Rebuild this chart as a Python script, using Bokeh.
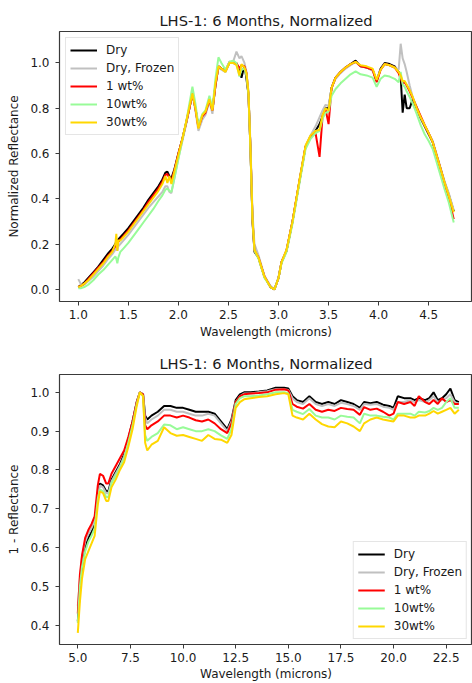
from bokeh.plotting import figure
from bokeh.models import Range1d, FixedTicker, PrintfTickFormatter
from bokeh.layouts import column
from bokeh.embed import file_html
from bokeh.resources import INLINE

# ---------------- data: top panel (normalized reflectance, 1-4.75 microns) ----------------
wl_top = [
    1.00, 1.03, 1.06, 1.10, 1.15, 1.20, 1.25, 1.30, 1.34, 1.37,
    1.38, 1.39, 1.40, 1.42, 1.45, 1.50, 1.55, 1.60, 1.65, 1.70,
    1.75, 1.80, 1.84, 1.87, 1.89, 1.91, 1.93, 1.96, 2.00, 2.04,
    2.08, 2.11, 2.14, 2.17, 2.20, 2.24, 2.27, 2.31, 2.34, 2.37,
    2.40, 2.43, 2.47, 2.51, 2.55, 2.58, 2.61, 2.63, 2.66, 2.68,
    2.70, 2.72, 2.74, 2.76, 2.80, 2.86, 2.92, 2.96, 3.00, 3.03,
    3.08, 3.14, 3.21, 3.27, 3.32, 3.37, 3.41, 3.44, 3.47, 3.50,
    3.53, 3.57, 3.62, 3.67, 3.72, 3.77, 3.82, 3.88, 3.94, 3.98,
    4.02, 4.06, 4.11, 4.16, 4.20, 4.22, 4.24, 4.26, 4.28, 4.31,
    4.34, 4.38, 4.42, 4.46, 4.50, 4.54, 4.58, 4.62, 4.66, 4.70, 4.75,
]
dry_top = [
    0.01, 0.02, 0.03, 0.05, 0.075, 0.10, 0.13, 0.16, 0.18, 0.20,
    0.21, 0.205, 0.22, 0.23, 0.245, 0.27, 0.30, 0.33, 0.36, 0.395,
    0.425, 0.455, 0.485, 0.515, 0.52, 0.50, 0.49, 0.53, 0.60, 0.665,
    0.74, 0.80, 0.865, 0.80, 0.72, 0.765, 0.78, 0.835, 0.79, 0.90,
    0.985, 0.975, 0.965, 1.00, 1.00, 0.995, 0.97, 0.935, 0.99, 0.93,
    0.86, 0.62, 0.30, 0.165, 0.14, 0.055, 0.01, 0.0, 0.05, 0.12,
    0.17, 0.30, 0.48, 0.63, 0.675, 0.70, 0.73, 0.765, 0.80, 0.80,
    0.89, 0.935, 0.96, 0.98, 0.995, 1.01, 0.985, 0.98, 0.97, 0.92,
    0.975, 1.00, 0.995, 0.985, 0.96, 0.94, 0.78, 0.86, 0.80, 0.80,
    0.84, 0.80, 0.755, 0.72, 0.685, 0.65, 0.59, 0.53, 0.47, 0.42, 0.345,
]
frozen_top = [
    0.045, 0.02, 0.02, 0.035, 0.055, 0.08, 0.105, 0.135, 0.155, 0.175,
    0.185, 0.17, 0.19, 0.20, 0.215, 0.24, 0.27, 0.30, 0.33, 0.36,
    0.385, 0.41, 0.43, 0.455, 0.455, 0.43, 0.425, 0.49, 0.58, 0.655,
    0.735, 0.80, 0.86, 0.79, 0.70, 0.75, 0.77, 0.83, 0.775, 0.90,
    0.98, 0.97, 0.96, 1.00, 1.01, 1.05, 1.02, 1.03, 1.00, 0.96,
    0.87, 0.64, 0.34, 0.20, 0.15, 0.06, 0.015, 0.0, 0.05, 0.12,
    0.175, 0.30, 0.48, 0.63, 0.68, 0.72, 0.76, 0.79, 0.815, 0.81,
    0.89, 0.93, 0.955, 0.975, 0.99, 1.005, 0.985, 0.98, 0.965, 0.925,
    0.97, 0.995, 0.99, 0.98, 0.97, 1.085, 1.02, 0.995, 0.96, 0.90,
    0.85, 0.805, 0.76, 0.725, 0.69, 0.655, 0.595, 0.535, 0.475, 0.425, 0.35,
]
wt1_top = [
    0.01, 0.015, 0.025, 0.045, 0.07, 0.095, 0.12, 0.15, 0.17, 0.19,
    0.20, 0.195, 0.21, 0.22, 0.235, 0.26, 0.29, 0.32, 0.35, 0.385,
    0.415, 0.445, 0.475, 0.505, 0.51, 0.49, 0.48, 0.525, 0.60, 0.665,
    0.74, 0.80, 0.865, 0.80, 0.715, 0.765, 0.78, 0.835, 0.79, 0.90,
    0.985, 0.975, 0.965, 1.005, 1.00, 1.00, 0.975, 0.99, 0.985, 0.955,
    0.86, 0.62, 0.31, 0.17, 0.14, 0.055, 0.01, 0.0, 0.05, 0.12,
    0.17, 0.30, 0.48, 0.63, 0.675, 0.69, 0.585, 0.765, 0.795, 0.73,
    0.89, 0.935, 0.96, 0.98, 0.995, 1.005, 0.985, 0.98, 0.97, 0.915,
    0.97, 0.995, 0.99, 0.98, 0.955, 0.93, 0.91, 0.915, 0.90, 0.875,
    0.845, 0.805, 0.765, 0.725, 0.69, 0.65, 0.59, 0.53, 0.465, 0.405, 0.31,
]
wt10_top = [
    0.005, 0.005, 0.01, 0.02, 0.04, 0.065, 0.085, 0.11, 0.13, 0.145,
    0.135, 0.115, 0.14, 0.165, 0.18, 0.205, 0.235, 0.265, 0.295, 0.325,
    0.355, 0.39, 0.415, 0.44, 0.445, 0.435, 0.43, 0.49, 0.575, 0.66,
    0.745, 0.82, 0.895, 0.82, 0.725, 0.775, 0.79, 0.855, 0.80, 0.93,
    1.025, 1.00, 0.97, 1.005, 1.01, 1.00, 0.94, 0.97, 0.975, 0.945,
    0.86, 0.61, 0.31, 0.17, 0.135, 0.05, 0.01, 0.0, 0.05, 0.115,
    0.165, 0.29, 0.47, 0.62, 0.665, 0.69, 0.70, 0.755, 0.78, 0.785,
    0.855, 0.885, 0.91, 0.93, 0.95, 0.963, 0.95, 0.945, 0.935, 0.895,
    0.93, 0.945, 0.94, 0.93, 0.915, 0.96, 0.905, 0.895, 0.875, 0.85,
    0.82, 0.775, 0.725, 0.685, 0.655, 0.62, 0.56, 0.50, 0.44, 0.385, 0.295,
]
wt30_top = [
    0.01, 0.015, 0.025, 0.04, 0.065, 0.09, 0.115, 0.145, 0.165, 0.20,
    0.245, 0.17, 0.215, 0.215, 0.23, 0.255, 0.285, 0.315, 0.345, 0.375,
    0.405, 0.435, 0.465, 0.50, 0.47, 0.50, 0.465, 0.52, 0.595, 0.665,
    0.745, 0.805, 0.865, 0.80, 0.71, 0.77, 0.785, 0.84, 0.79, 0.91,
    0.985, 0.975, 0.96, 1.00, 1.00, 0.99, 0.945, 0.995, 0.98, 0.955,
    0.87, 0.62, 0.31, 0.175, 0.14, 0.055, 0.01, 0.0, 0.05, 0.12,
    0.175, 0.30, 0.485, 0.635, 0.68, 0.70, 0.705, 0.77, 0.80, 0.79,
    0.89, 0.935, 0.96, 0.98, 0.995, 1.005, 0.99, 0.985, 0.975, 0.925,
    0.97, 0.995, 0.99, 0.98, 0.96, 0.945, 0.92, 0.92, 0.905, 0.88,
    0.85, 0.80, 0.76, 0.725, 0.69, 0.65, 0.59, 0.53, 0.47, 0.415, 0.34,
]

# ---------------- data: bottom panel (1 - reflectance, 5-23 microns) ----------------
wl_bot = [
    5.0, 5.1, 5.2, 5.35, 5.5, 5.65, 5.8, 5.95, 6.05, 6.2,
    6.35, 6.45, 6.6, 6.8, 7.0, 7.2, 7.4, 7.6, 7.8, 7.95,
    8.1, 8.2, 8.3, 8.5, 8.8, 9.1, 9.4, 9.7, 10.0, 10.3,
    10.6, 10.9, 11.2, 11.5, 11.8, 12.1, 12.3, 12.5, 12.7, 12.9,
    13.2, 13.6, 14.0, 14.4, 14.8, 15.0, 15.2, 15.4, 15.7, 16.0,
    16.3, 16.6, 16.9, 17.2, 17.5, 17.8, 18.1, 18.4, 18.6, 18.9,
    19.2, 19.5, 19.8, 20.0, 20.2, 20.5, 20.8, 21.0, 21.2, 21.5,
    21.7, 21.9, 22.1, 22.3, 22.5, 22.7, 22.9, 23.1,
]
dry_bot = [
    0.41, 0.49, 0.55, 0.60, 0.625, 0.64, 0.66, 0.735, 0.765, 0.76,
    0.745, 0.745, 0.775, 0.795, 0.815, 0.84, 0.88, 0.925, 0.975, 1.0,
    0.995, 0.94, 0.93, 0.94, 0.95, 0.965, 0.965, 0.96, 0.96, 0.955,
    0.95, 0.95, 0.95, 0.945, 0.925, 0.905, 0.93, 0.98, 0.995, 1.0,
    1.0, 1.002, 1.005, 1.012, 1.012, 1.01, 0.99, 0.98, 0.975, 0.99,
    0.975, 0.97, 0.975, 0.97, 0.98, 0.975, 0.97, 0.96, 0.975, 0.972,
    0.975, 0.968, 0.965, 0.96, 0.99, 0.985, 0.985, 0.98, 0.985, 0.98,
    0.985, 1.0, 0.98, 0.985, 0.995, 1.01, 0.98, 0.975,
]
frozen_bot = [
    0.45, 0.52, 0.575, 0.615, 0.635, 0.65, 0.67, 0.74, 0.76, 0.755,
    0.74, 0.74, 0.77, 0.79, 0.81, 0.835, 0.875, 0.92, 0.975, 1.0,
    0.995, 0.935, 0.92, 0.93, 0.94, 0.955, 0.955, 0.95, 0.95, 0.945,
    0.94, 0.94, 0.945, 0.94, 0.92, 0.90, 0.925, 0.975, 0.99, 0.997,
    0.997, 1.0, 1.003, 1.008, 1.008, 1.006, 0.985, 0.975, 0.97, 0.985,
    0.97, 0.965, 0.97, 0.965, 0.973, 0.97, 0.965, 0.955, 0.97, 0.968,
    0.97, 0.963, 0.96, 0.955, 0.975, 0.975, 0.98, 0.975, 0.98, 0.975,
    0.98, 0.99, 0.975, 0.98, 0.985, 0.995, 0.975, 0.97,
]
wt1_bot = [
    0.43, 0.53, 0.58, 0.625, 0.645, 0.66, 0.68, 0.76, 0.79, 0.785,
    0.765, 0.765, 0.79, 0.81, 0.83, 0.85, 0.885, 0.925, 0.975, 1.0,
    0.995, 0.915, 0.905, 0.915, 0.925, 0.94, 0.94, 0.935, 0.94, 0.935,
    0.928, 0.925, 0.93, 0.92, 0.905, 0.895, 0.92, 0.975, 0.99, 0.995,
    0.997, 0.998, 1.0, 1.007, 1.008, 1.005, 0.97, 0.963, 0.958, 0.97,
    0.955, 0.95, 0.955, 0.952, 0.96, 0.957, 0.955, 0.942, 0.962, 0.955,
    0.958, 0.95, 0.94, 0.945, 0.975, 0.97, 0.975, 0.965, 0.99, 0.975,
    0.97, 0.98, 0.97, 0.985, 0.975, 0.98, 0.97, 0.97,
]
wt10_bot = [
    0.405, 0.50, 0.55, 0.59, 0.615, 0.63, 0.65, 0.725, 0.75, 0.745,
    0.73, 0.73, 0.765, 0.785, 0.805, 0.83, 0.87, 0.915, 0.97, 1.0,
    0.99, 0.89, 0.875, 0.885, 0.895, 0.917, 0.915, 0.905, 0.91, 0.905,
    0.90, 0.90, 0.905, 0.90, 0.889, 0.88, 0.905, 0.97, 0.985, 0.99,
    0.99, 0.992, 0.995, 1.0, 1.0, 0.998, 0.955, 0.95, 0.944, 0.957,
    0.94, 0.935, 0.935, 0.93, 0.94, 0.937, 0.935, 0.92, 0.945, 0.94,
    0.94, 0.937, 0.935, 0.93, 0.945, 0.945, 0.945, 0.94, 0.95, 0.948,
    0.952, 0.96, 0.955, 0.96, 0.975, 0.985, 0.96, 0.96,
]
wt30_bot = [
    0.38, 0.46, 0.52, 0.57, 0.59, 0.61, 0.63, 0.71, 0.745, 0.74,
    0.72, 0.72, 0.755, 0.775, 0.80, 0.82, 0.86, 0.905, 0.965, 1.0,
    0.99, 0.87, 0.85, 0.865, 0.875, 0.91, 0.895, 0.888, 0.89, 0.885,
    0.88, 0.875, 0.89, 0.88, 0.878, 0.87, 0.89, 0.96, 0.975, 0.982,
    0.985, 0.988, 0.99, 0.995, 0.998, 0.995, 0.94, 0.935, 0.93, 0.945,
    0.93, 0.918, 0.912, 0.91, 0.925, 0.92, 0.912, 0.90, 0.92, 0.93,
    0.935, 0.93, 0.927, 0.925, 0.94, 0.94, 0.935, 0.935, 0.94, 0.94,
    0.945, 0.952, 0.945, 0.95, 0.955, 0.96, 0.945, 0.955,
]

series_names = ["Dry", "Dry, Frozen", "1 wt%", "10wt%", "30wt%"]
series_colors = ["black", "silver", "red", "palegreen", "gold"]

top_xticks = [1.0, 1.5, 2.0, 2.5, 3.0, 3.5, 4.0, 4.5]
top_yticks = [0.0, 0.2, 0.4, 0.6, 0.8, 1.0]
bot_xticks = [5.0, 7.5, 10.0, 12.5, 15.0, 17.5, 20.0, 22.5]
bot_yticks = [0.4, 0.5, 0.6, 0.7, 0.8, 0.9, 1.0]

TITLE = "LHS-1: 6 Months, Normalized"
FONT = "DejaVu Sans"
TXT = "#1a1a1a"


def make_fig(xr, yr, h, top, bottom):
    p = figure(width=472, height=h, x_range=Range1d(*xr), y_range=Range1d(*yr),
               output_backend="svg", toolbar_location=None, min_border_left=59,
               min_border_right=0, min_border_top=top, min_border_bottom=bottom,
               background_fill_color="white", border_fill_color="white")
    p.title.text = TITLE
    p.title.align = "center"
    p.title.text_font = FONT
    p.title.text_font_size = "14.7px"
    p.title.text_font_style = "normal"
    p.title.text_color = TXT
    p.title.standoff = 5
    p.grid.visible = False
    p.outline_line_color = "#3a3a3a"
    p.outline_line_width = 1.2
    for ax in (p.xaxis[0], p.yaxis[0]):
        ax.axis_line_color = None
        ax.major_tick_in = 0
        ax.major_tick_out = 4
        ax.major_tick_line_color = "#3a3a3a"
        ax.minor_tick_line_color = None
        ax.major_label_text_font = FONT
        ax.major_label_text_font_size = "12px"
        ax.major_label_text_color = TXT
        ax.axis_label_text_font = FONT
        ax.axis_label_text_font_size = "12px"
        ax.axis_label_text_font_style = "normal"
        ax.axis_label_text_color = TXT
        ax.formatter = PrintfTickFormatter(format="%.1f")
    p.yaxis.major_label_standoff = 6
    p.yaxis.axis_label_standoff = 6
    p.xaxis.major_label_standoff = 4
    p.xaxis.axis_label = "Wavelength (microns)"
    return p


def add_lines(p, x, ys):
    for y, name, c in zip(ys, series_names, series_colors):
        p.line(x, y, line_color=c, line_width=2, legend_label=name)


def style_legend(p, loc, margin):
    lg = p.legend[0]
    lg.location = loc
    lg.margin = margin
    lg.padding = 4
    lg.spacing = 2
    lg.glyph_width = 27
    lg.glyph_height = 16
    lg.label_height = 16
    lg.label_standoff = 9
    lg.label_text_font = FONT
    lg.label_text_font_size = "12px"
    lg.label_text_color = TXT
    lg.border_line_color = "#cccccc"
    lg.background_fill_alpha = 0.85


# ---- top panel ----
p1 = make_fig((0.8125, 4.9375), (-0.054, 1.139), 345, 31, 44)
p1.xaxis.ticker = FixedTicker(ticks=top_xticks)
p1.yaxis.ticker = FixedTicker(ticks=top_yticks)
p1.yaxis.axis_label = "Normalized Reflectance"
p1.xaxis.axis_label_standoff = 3
add_lines(p1, wl_top, [dry_top, frozen_top, wt1_top, wt10_top, wt30_top])
style_legend(p1, "top_left", 6)

# ---- bottom panel ----
p2 = make_fig((4.1306, 23.75), (0.35, 1.046), 338, 29, 38)
p2.xaxis.ticker = FixedTicker(ticks=bot_xticks)
p2.yaxis.ticker = FixedTicker(ticks=bot_yticks)
p2.yaxis.axis_label = "1 - Reflectance"
p2.xaxis.axis_label_standoff = 2
add_lines(p2, wl_bot, [dry_bot, frozen_bot, wt1_bot, wt10_bot, wt30_bot])
style_legend(p2, "bottom_right", 5)

layout = column(p1, p2, spacing=0)
open("out.html", "w").write(file_html(layout, INLINE))
